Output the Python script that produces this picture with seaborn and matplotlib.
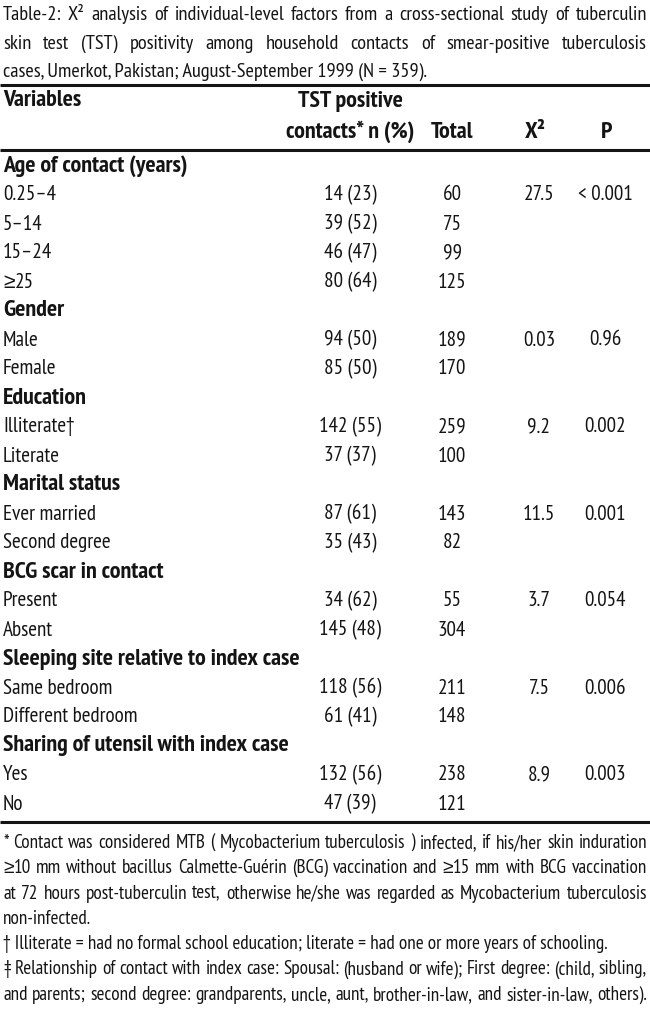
import matplotlib
matplotlib.use("Agg")
import matplotlib.pyplot as plt
import seaborn as sns
import pandas as pd
from matplotlib import font_manager

# ---- table content ----
title_lines = [
    "Table-2: X² analysis of individual-level factors from a cross-sectional study of tuberculin",
    "skin test (TST) positivity among household contacts of smear-positive tuberculosis",
    "cases, Umerkot, Pakistan; August-September 1999 (N = 359).",
]
header_top = ["Variables", "TST positive"]
header_cols = ["contacts* n (%)", "Total", "X²", "P"]

groups = [
    "Age of contact (years)",
    "Gender",
    "Education",
    "Marital status",
    "BCG scar in contact",
    "Sleeping site relative to index case",
    "Sharing of utensil with index case",
]
levels = [
    ["0.25–4", "5–14", "15–24", "≥25"],
    ["Male", "Female"],
    ["Illiterate†", "Literate"],
    ["Ever married", "Second degree"],
    ["Present", "Absent"],
    ["Same bedroom", "Different bedroom"],
    ["Yes", "No"],
]
tst_positive = [[14, 39, 46, 80], [94, 85], [142, 37], [87, 35], [34, 145], [118, 61], [132, 47]]
tst_percent = [[23, 52, 47, 64], [50, 50], [55, 37], [61, 43], [62, 48], [56, 41], [56, 39]]
totals = [[60, 75, 99, 125], [189, 170], [259, 100], [143, 82], [55, 304], [211, 148], [238, 121]]
chi_square = ["27.5", "0.03", "9.2", "11.5", "3.7", "7.5", "8.9"]
p_values = ["< 0.001", "0.96", "0.002", "0.001", "0.054", "0.006", "0.003"]

footnotes = [
    "* Contact was considered MTB ( Mycobacterium tuberculosis ) infected, if his/her skin induration",
    "≥10 mm without bacillus Calmette-Guérin (BCG) vaccination and ≥15 mm with BCG vaccination",
    "at 72 hours post-tuberculin test, otherwise he/she was regarded as Mycobacterium tuberculosis",
    "non-infected.",
    "† Illiterate = had no formal school education; literate = had one or more years of schooling.",
    "‡ Relationship of contact with index case: Spousal: (husband or wife); First degree: (child, sibling,",
    "and parents; second degree: grandparents, uncle, aunt, brother-in-law, and sister-in-law, others).",
]
footnote_justified = [True, True, True, False, False, True, True]

# build the row table
rows = []
for g, name in enumerate(groups):
    rows.append({"label": name, "bold": True, "tst": "", "total": "", "chi": "", "p": ""})
    for i, lev in enumerate(levels[g]):
        rows.append({
            "label": lev,
            "bold": False,
            "tst": f"{tst_positive[g][i]} ({tst_percent[g][i]})",
            "total": str(totals[g][i]),
            "chi": chi_square[g] if i == 0 else "",
            "p": p_values[g] if i == 0 else "",
        })
table = pd.DataFrame(rows)

# ---- style ----
sns.set_theme(style="white")
available = {f.name for f in font_manager.fontManager.ttflist}
FONT = "DejaVu Sans"
for cand in ["PT Sans Narrow", "Asap Condensed", "Fira Sans Condensed", "Sofia Sans Condensed",
             "Roboto Condensed", "Archivo Narrow", "Liberation Sans"]:
    if cand in available:
        FONT = cand
        break
plt.rcParams["font.family"] = [FONT, "DejaVu Sans"]
GE_FONT = ["Liberation Sans", "DejaVu Sans"]   # flat-bar "≥" like the source
INK = "#141414"

W, H = 650, 1010
fig = plt.figure(figsize=(W / 100, H / 100), dpi=100)
ax = fig.add_axes([0, 0, 1, 1])
ax.set_xlim(0, W)
ax.set_ylim(H, 0)
ax.axis("off")
renderer = fig.canvas.get_renderer()


def text_width(s, size, weight="normal", family=None):
    kw = {"family": family} if family else {}
    t = ax.text(0, 0, s, fontsize=size, fontweight=weight, **kw)
    w = t.get_window_extent(renderer=renderer).width
    t.remove()
    return w


def fit(s, width, weight="normal"):
    return 10 * width / text_width(s, 10, weight)


def word_width(word, size, weight="normal"):
    if word.startswith("≥"):
        return text_width("≥", size, weight, GE_FONT) + text_width(word[1:], size, weight)
    return text_width(word, size, weight)


def put_word(x, y, word, size, weight="normal"):
    if word.startswith("≥"):
        ax.text(x, y, "≥", fontsize=size, fontweight=weight, family=GE_FONT, color=INK,
                va="center", ha="left")
        x += text_width("≥", size, weight, GE_FONT)
        word = word[1:]
    ax.text(x, y, word, fontsize=size, fontweight=weight, color=INK, va="center", ha="left")


def put_line(x0, y, s, size, weight="normal", width=None):
    if width is None and "≥" not in s:
        ax.text(x0, y, s, fontsize=size, fontweight=weight, color=INK, va="center", ha="left")
        return
    words = s.split(" ")
    widths = [word_width(w, size, weight) for w in words]
    space = text_width("a b", size, weight) - text_width("ab", size, weight)
    gap = space if width is None else (width - sum(widths)) / max(len(words) - 1, 1)
    x = x0
    for w, wd in zip(words, widths):
        put_word(x, y, w, size, weight)
        x += wd + gap


size_title = fit(title_lines[2], 424)
size_body = fit("Different bedroom", 135)
size_bold = 0.5 * (fit("Age of contact (years)", 182, "bold") + fit(groups[-1], 296, "bold"))
size_note = fit(footnotes[4], 607)

LEFT, RIGHT = 3, 647

# title
title_y = [15, 44, 72]
for k, line in enumerate(title_lines):
    put_line(LEFT, title_y[k], line, size_title, width=(RIGHT - LEFT) if k < 2 else None)

# rules
ax.hlines([85, 150, 822], 0, W, color=INK, lw=2.2)

# header
col_x = {"tst": 350, "total": 452, "chi": 535, "p": 607}
ax.text(LEFT, 101, header_top[0], fontsize=size_bold, fontweight="bold", color=INK, va="center")
ax.text(col_x["tst"], 101, header_top[1], fontsize=size_bold, fontweight="bold", color=INK,
        va="center", ha="center")
for key, lab in zip(["tst", "total", "chi", "p"], header_cols):
    ax.text(col_x[key], 132, lab, fontsize=size_bold, fontweight="bold", color=INK,
            va="center", ha="center")

# body rows
row_y0, row_step = 166, 29
val_x = {"tst": 350, "total": 452, "chi": 539, "p": 605}
for i, r in table.iterrows():
    y = row_y0 + i * row_step
    if r["bold"]:
        ax.text(LEFT, y, r["label"], fontsize=size_bold, fontweight="bold", color=INK, va="center")
        continue
    put_line(LEFT, y, r["label"], size_body)
    for key in ["tst", "total", "chi", "p"]:
        if r[key]:
            ax.text(val_x[key], y, r[key], fontsize=size_body, color=INK, va="center", ha="center")

# footnotes
note_y0, note_step = 843, 25.3
for k, line in enumerate(footnotes):
    put_line(LEFT, note_y0 + k * note_step, line, size_note,
             width=(RIGHT - LEFT) if footnote_justified[k] else None)

fig.savefig("out.png", dpi=100, facecolor="white")
